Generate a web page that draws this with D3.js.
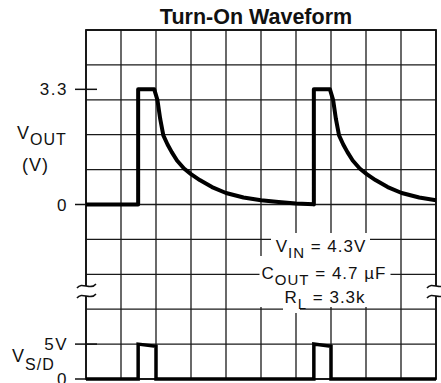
<!DOCTYPE html>
<html>
<head>
<meta charset="utf-8">
<script src="https://cdn.jsdelivr.net/npm/d3@7"></script>
<style>
  body { margin: 0; background: #fff; }
  svg { display: block; }
  text { font-family: "Liberation Sans", Arial, sans-serif; fill: #111; }
</style>
</head>
<body>
<div id="chart"></div>
<script>
// datos (tiempo en divisiones, tension en V)
var voutTime = [0, 1.49, 1.49, 1.95, 2.04, 2.12, 2.21, 2.33, 2.45, 2.6, 2.8, 3.0, 3.25, 3.6, 4.0, 4.5, 5.0, 5.5, 6.0, 6.51,
                6.51, 6.51, 6.97, 7.06, 7.14, 7.23, 7.35, 7.47, 7.62, 7.82, 8.02, 8.27, 8.62, 9.02, 9.52, 10.0];
var voutVolts = [0, 0, 3.3, 3.3, 3.0, 2.45, 1.98, 1.72, 1.5, 1.26, 1.03, 0.87, 0.7, 0.5, 0.33, 0.2, 0.12, 0.07, 0.03, 0.01,
                 0.0, 3.3, 3.3, 3.0, 2.45, 1.98, 1.72, 1.5, 1.26, 1.03, 0.87, 0.7, 0.5, 0.33, 0.2, 0.12];
var sdTime = [0, 1.49, 1.49, 2.0, 2.0, 6.51, 6.51, 7.0, 7.0, 10];
var sdVolts = [0, 0, 5, 4.7, 0, 0, 5, 4.7, 0, 0];
var voutTicks = [{v: 3.3, label: '3.3'}, {v: 0, label: '0'}];
var sdTicks = [{v: 5, label: '5V'}, {v: 0, label: '0'}];

var w = 441, h = 383;
var svg = d3.select('#chart').append('svg').attr('width', w).attr('height', h);

// escalas
var x = d3.scaleLinear().domain([0, 10]).range([86, 436]);
var row = d3.scaleLinear().domain([0, 10]).range([30, 379]);
var yOut = d3.scaleLinear().domain([0, 5]).range([row(5), row(0)]);
var ySd = d3.scaleLinear().domain([0, 5]).range([row(10), row(9)]);

// titulo
svg.append('text')
    .attr('x', 256).attr('y', 24)
    .attr('text-anchor', 'middle')
    .style('font-weight', 'bold')
    .style('font-size', '21.5px')
    .text('Turn-On Waveform');

// rejilla
var grid = svg.append('g').attr('stroke', '#1a1a1a').attr('stroke-width', 1.3);
grid.selectAll('line.v').data(d3.range(0, 11)).enter().append('line')
    .attr('x1', d => x(d)).attr('x2', d => x(d))
    .attr('y1', row(0)).attr('y2', row(10));
grid.selectAll('line.h').data(d3.range(0, 11)).enter().append('line')
    .attr('x1', x(0)).attr('x2', x(10))
    .attr('y1', d => row(d)).attr('y2', d => row(d));
svg.append('rect')
    .attr('x', x(0)).attr('y', row(0))
    .attr('width', x(10) - x(0)).attr('height', row(10) - row(0))
    .attr('fill', 'none').attr('stroke', '#111').attr('stroke-width', 1.8);

// marcas de eje
function ticks(data, scale, longTick) {
    data.forEach(function(t) {
        var yy = scale(t.v);
        svg.append('line')
            .attr('x1', 75).attr('x2', longTick(t) ? 97 : x(0))
            .attr('y1', yy).attr('y2', yy)
            .attr('stroke', '#111').attr('stroke-width', 1.5);
        svg.append('text')
            .attr('x', 68).attr('y', yy + 6)
            .attr('text-anchor', 'end')
            .style('font-size', '17px')
            .style('letter-spacing', '1.5px')
            .text(t.label);
    });
}
ticks(voutTicks, yOut, t => t.v !== 0);
ticks(sdTicks, ySd, t => t.v !== 0);

// corte del eje
function breakMark(cx) {
    svg.append('rect').attr('x', cx - 10).attr('y', 286).attr('width', 20).attr('height', 10).attr('fill', '#fff');
    [286, 296].forEach(function(yy) {
        svg.append('path')
            .attr('d', `M${cx - 9},${yy + 2} C${cx - 4},${yy - 5} ${cx + 4},${yy + 5} ${cx + 10},${yy - 2}`)
            .attr('fill', 'none').attr('stroke', '#111').attr('stroke-width', 1.5);
    });
}
breakMark(x(0));
breakMark(x(10));

// rotulos de ejes
var lab = svg.append('g').style('font-size', '18px').style('letter-spacing', '1px');
var t1 = lab.append('text').attr('x', 17).attr('y', 139);
t1.append('tspan').text('V');
t1.append('tspan').attr('dy', 6).style('font-size', '16px').text('OUT');
lab.append('text').attr('x', 22).attr('y', 171).text('(V)');
var t2 = lab.append('text').attr('x', 12).attr('y', 362);
t2.append('tspan').text('V');
t2.append('tspan').attr('dy', 8).style('font-size', '16px').text('S/D');

// anotacion con fondo blanco
var bg = [[271, 233, 99, 29], [259.5, 256, 131, 32], [259.5, 288, 110, 19], [283, 305, 17, 8]];
svg.selectAll('rect.bg').data(bg).enter().append('rect')
    .attr('x', d => d[0]).attr('y', d => d[1]).attr('width', d => d[2]).attr('height', d => d[3])
    .attr('fill', '#fff');
var note = svg.append('g').style('font-size', '17px').style('letter-spacing', '1px').attr('text-anchor', 'middle');
var a = note.append('text').attr('x', 321).attr('y', 252);
a.append('tspan').text('V');
a.append('tspan').attr('dy', 6).style('font-size', '15px').text('IN');
a.append('tspan').attr('dy', -6).text(' = 4.3V');
var b = note.append('text').attr('x', 324).attr('y', 279);
b.append('tspan').text('C');
b.append('tspan').attr('dy', 6).style('font-size', '15px').text('OUT');
b.append('tspan').attr('dy', -6).text(' = 4.7 \u00b5F');
var c = note.append('text').attr('x', 325).attr('y', 303);
c.append('tspan').text('R');
c.append('tspan').attr('dy', 6).style('font-size', '15px').text('L');
c.append('tspan').attr('dy', -6).text(' = 3.3k');

// formas de onda
var lineOut = d3.line().x(d => x(d[0])).y(d => yOut(d[1]));
var lineSd = d3.line().x(d => x(d[0])).y(d => ySd(d[1]));
svg.append('path')
    .datum(d3.zip(voutTime, voutVolts))
    .attr('d', lineOut)
    .attr('fill', 'none').attr('stroke', '#000').attr('stroke-width', 4)
    .attr('stroke-linejoin', 'round');
svg.append('path')
    .datum(d3.zip(sdTime, sdVolts))
    .attr('d', lineSd)
    .attr('fill', 'none').attr('stroke', '#000').attr('stroke-width', 3.5)
    .attr('stroke-linejoin', 'miter');
</script>
</body>
</html>
